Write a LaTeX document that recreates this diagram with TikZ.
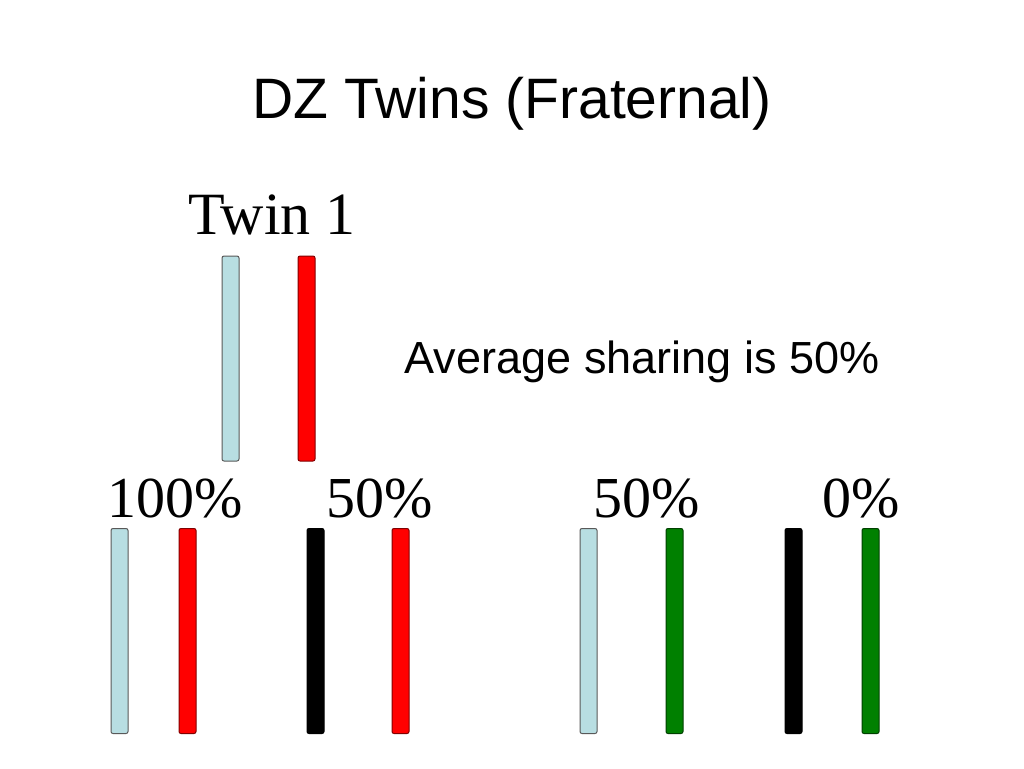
\documentclass[tikz,border=0pt]{standalone}
\usepackage{fontspec}
\setmainfont{Liberation Serif}
\newfontfamily\arialf{Liberation Sans}
\definecolor{lblue}{RGB}{184,222,226}
\definecolor{gr}{RGB}{0,128,0}
\begin{document}
\begin{tikzpicture}[x=1pt,y=-1pt,
  bar/.style={rounded corners=2pt, line width=1pt, minimum width=17pt, minimum height=205pt, inner sep=0pt},
  lb/.style={bar, fill=lblue, draw=black!65},
  rd/.style={bar, fill=red, draw=red!50!black},
  bk/.style={bar, fill=black, draw=black},
  gn/.style={bar, fill=gr, draw=gr!50!black},
  pct/.style={anchor=base, inner sep=0pt, font=\fontsize{58}{62}\selectfont},
  sans/.style={anchor=base, inner sep=0pt}]
\useasboundingbox (0,0) rectangle (1024,768);
\node[sans, font=\arialf\fontsize{57}{62}\selectfont] (title) at (512,118) {DZ Twins (Fraternal)};
\node[pct, font=\fontsize{60}{64}\selectfont] (twin) at (272,234) {Twin 1};
\node[sans, font=\arialf\fontsize{45}{50}\selectfont] (avg) at (642,373) {Average sharing is 50\%};
\node[lb] (t1) at (230.5,358.5) {};
\node[rd] (t2) at (306.5,358.5) {};
\node[pct] (p1) at (175,517) {100\%};
\node[pct] (p2) at (380,517) {50\%};
\node[pct] (p3) at (647,517) {50\%};
\node[pct] (p4) at (861,517) {0\%};
\node[lb] (a1) at (119.5,631) {};
\node[rd] (a2) at (187.5,631) {};
\node[bk] (b1) at (315.5,631) {};
\node[rd] (b2) at (400.5,631) {};
\node[lb] (c1) at (588.5,631) {};
\node[gn] (c2) at (674.5,631) {};
\node[bk] (d1) at (793.5,631) {};
\node[gn] (d2) at (870.5,631) {};
\end{tikzpicture}
\end{document}
